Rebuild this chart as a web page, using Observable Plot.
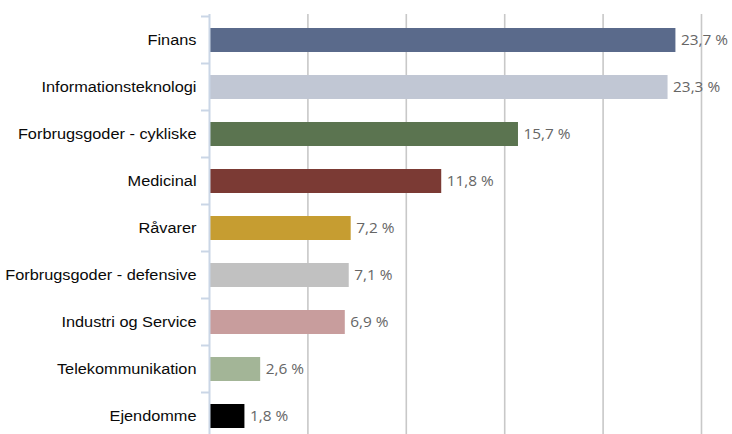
<!DOCTYPE html>
<html>
<head>
<meta charset="utf-8">
<script src="https://cdn.jsdelivr.net/npm/d3@7"></script>
<script src="https://cdn.jsdelivr.net/npm/@observablehq/plot@0.6"></script>
<style>
  html, body { margin: 0; padding: 0; background: #fff; overflow: hidden; }
  #chart svg { display: block; }
</style>
</head>
<body>
<div id="chart"></div>
<script>
const categories = [
  "Finans",
  "Informationsteknologi",
  "Forbrugsgoder - cykliske",
  "Medicinal",
  "Råvarer",
  "Forbrugsgoder - defensive",
  "Industri og Service",
  "Telekommunikation",
  "Ejendomme"
];
const values = [23.7, 23.3, 15.7, 11.8, 7.2, 7.1, 6.9, 2.6, 1.8];
const colors = ["#5a6a8b", "#c1c7d4", "#5b7450", "#7b3a34", "#c69d31", "#c1c1c1", "#c89d9d", "#a3b597", "#000000"];
const gridTicks = [5, 10, 15, 20, 25];

const data = categories.map((c, i) => ({category: c, value: values[i], color: colors[i]}));
const fmt = v => v.toFixed(1).replace(".", ",") + " %";

const chart = Plot.plot({
  width: 732,
  height: 441,
  marginLeft: 209,
  marginRight: 31,
  marginTop: 14,
  marginBottom: 0,
  style: {fontFamily: "'Liberation Sans', Arial, sans-serif", fontSize: "14px", color: "#000", background: "#fff"},
  x: {domain: [0, 25], axis: null},
  y: {domain: categories, paddingInner: 0.5, paddingOuter: 0.25, align: 0.5, axis: null},
  marks: [
    Plot.ruleX(gridTicks, {stroke: "#c8c8c8", strokeWidth: 1.6}),
    Plot.barX(data, {x: "value", y: "category", fill: d => d.color, insetLeft: 1}),
    Plot.ruleX([0], {stroke: "#cad6e6", strokeWidth: 2}),
    Plot.text(data, {x: "value", y: "category", text: d => fmt(d.value), textAnchor: "start", dx: 5,
      fill: "#666", fontFamily: "'Open Sans', sans-serif", fontSize: 14}),
    Plot.axisY({tickSize: 0, tickPadding: 13, fontSize: 14, label: null, fill: "#0a0a0a"})
  ]
});
document.getElementById("chart").appendChild(chart);

// tick marks between categories on the left axis
const ys = chart.scale("y");
const xs = chart.scale("x");
const x0 = xs.apply(0);
const half = (ys.step - ys.bandwidth) / 2;
const bounds = categories.map(c => ys.apply(c) - half);
d3.select(chart).append("g")
  .selectAll("line").data(bounds).join("line")
  .attr("x1", x0 - 8).attr("x2", x0)
  .attr("y1", d => d).attr("y2", d => d)
  .attr("stroke", "#cad6e6").attr("stroke-width", 2);

// horizontal stretch of texts like the reference
function stretch(sel, k) {
  sel.each(function() {
    const len = this.getComputedTextLength();
    this.setAttribute("textLength", (len * k).toFixed(1));
    this.setAttribute("lengthAdjust", "spacingAndGlyphs");
  });
}
stretch(d3.select(chart).selectAll('g[aria-label="y-axis tick label"] text'), 1.165);
stretch(d3.select(chart).selectAll('g[aria-label="text"] text'), 1.1);
</script>
</body>
</html>
